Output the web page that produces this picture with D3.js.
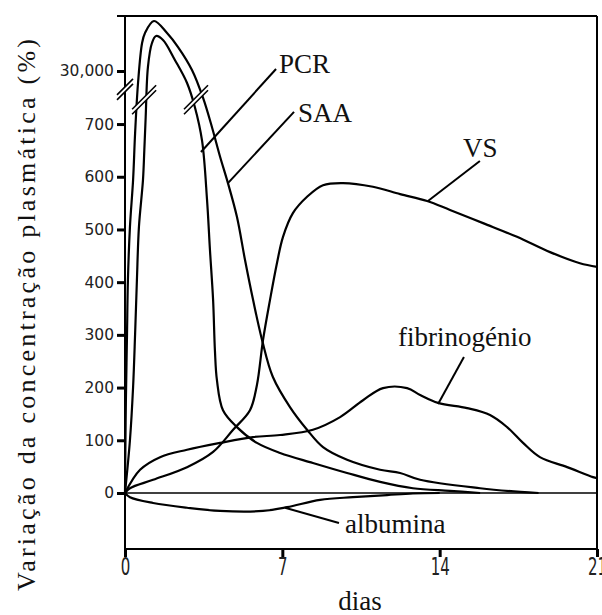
<!DOCTYPE html>
<html><head><meta charset="utf-8">
<script src="https://cdn.jsdelivr.net/npm/d3@7"></script>
<style>body{margin:0;background:#fff}svg{display:block}
.serif{font-family:"Liberation Serif","DejaVu Serif","Times New Roman",Times,serif;}
</style>
</head><body>
<svg id="chart" width="602" height="615"></svg>
<script>
// ---- data ----
const xTickValues = [0, 7, 14, 21];
const yTickValues = [0, 100, 200, 300, 400, 500, 600, 700, 30000];

const saaDays   = [0, 0.02, 0.04, 0.09, 0.13, 0.22, 0.36, 0.45, 0.58, 0.76, 0.89, 1.29, 1.87, 2.36, 2.98, 3.47, 3.87, 4.23, 4.58, 4.98, 5.34, 5.70, 6.10, 6.58, 7.34, 8.10, 8.81, 9.88, 11.35, 12.24, 13.13, 15.8, 17.6, 18.4];
const saaValues = [0, 100, 176, 302, 404, 505, 594, 683, 27650, 35490, 37450, 39800, 37450, 34700, 30200, 760, 694, 638, 588, 524, 442, 366, 290, 220, 163, 120, 87, 63, 44, 38, 25, 9, 2, 0];

const pcrDays   = [0, 0.22, 0.36, 0.45, 0.53, 0.62, 0.80, 0.86, 0.92, 1.02, 1.20, 1.38, 1.69, 2.22, 2.76, 3.11, 3.43, 3.65, 3.78, 3.92, 4.00, 4.09, 4.36, 4.98, 5.87, 6.90, 8.36, 9.88, 11.35, 12.81, 14.46, 15.8];
const pcrValues = [0, 100, 201, 302, 404, 505, 594, 651, 713, 30780, 35490, 36860, 36080, 32160, 27650, 732, 668, 556, 461, 366, 271, 214, 157, 125, 95, 76, 57, 38, 21, 9, 4, 0];

const vsDays   = [0, 0.22, 1.25, 2.76, 3.92, 4.81, 5.56, 5.87, 6.14, 6.45, 6.76, 7.03, 7.47, 8.10, 8.81, 9.70, 11.03, 12.24, 13.44, 14.46, 15.93, 17.44, 18.91, 20.24, 21];
const vsValues = [0, 9, 25, 49, 78, 120, 157, 205, 290, 366, 436, 486, 531, 562, 584, 588, 581, 567, 554, 537, 512, 486, 457, 436, 429];

const fibDays   = [0, 0.67, 1.56, 2.76, 4.23, 5.69, 6.90, 8.36, 9.57, 10.59, 11.48, 12.55, 13.13, 13.93, 15.22, 16.24, 17.00, 17.71, 18.46, 19.67, 20.82, 21];
const fibValues = [0, 44, 68, 82, 95, 106, 110, 120, 144, 176, 199, 199, 186, 171, 161, 148, 125, 95, 68, 49, 30, 28];

const albDays   = [0, 0.22, 1.25, 2.76, 4.23, 6.14, 7.21, 8.68, 10.14, 11.66, 12.81, 14.0];
const albValues = [0, -8, -19, -28, -34, -34, -27, -13, -8, -4, -1, 0];

// label: text, text anchor point, leader start, leader end (day, value)
const labelNames  = ["PCR", "SAA", "VS", "fibrinogénio", "albumina"];
const labelAt     = [[6.85, 29608], [7.70, 704], [15.04, 638], [12.15, 279], [9.79, -76]];
const leaderFrom  = [[6.72, 30392], [7.52, 723], [15.79, 630], [15.08, 258], [9.52, -57]];
const leaderTo    = [[3.38, 647], [4.58, 588], [13.48, 554], [13.93, 169], [7.12, -28]];

// axis break marks (day, value, half-size)
const breakDays   = [0, 0.85, 3.16];
const breakValues = [20000, 746, 746];
const breakHalf   = [8, 12, 12];

// ---- layout ----
const frame = {left: 125, right: 597, top: 16, bottom: 549};
const svg = d3.select("#chart");

const x = d3.scaleLinear().domain([0, 21]).range([frame.left, frame.right]);
// broken y scale: linear 0..750, compressed break, upper segment for the big peaks
const y = d3.scaleLinear().domain([-106.3, 750, 27000, 40000]).range([549, 97.7, 86.3, 20]);

// frame
const g = svg.append("g").attr("stroke", "#000").attr("fill", "none");
g.append("line").attr("x1", frame.left - 8).attr("x2", frame.right).attr("y1", frame.top).attr("y2", frame.top).attr("stroke-width", 2);
g.append("line").attr("x1", frame.right).attr("x2", frame.right).attr("y1", frame.top).attr("y2", frame.bottom).attr("stroke-width", 2);
g.append("line").attr("x1", frame.left).attr("x2", frame.right).attr("y1", frame.bottom).attr("y2", frame.bottom).attr("stroke-width", 2);
g.append("line").attr("x1", frame.left).attr("x2", frame.left).attr("y1", frame.top).attr("y2", frame.bottom).attr("stroke-width", 2);
// zero line
g.append("line").attr("x1", frame.left).attr("x2", frame.right).attr("y1", y(0)).attr("y2", y(0)).attr("stroke-width", 1.5);

// y axis
const yAxis = svg.append("g").attr("transform", `translate(${frame.left},0)`)
  .call(d3.axisLeft(y).tickValues(yTickValues).tickSize(8).tickPadding(3).tickFormat(d3.format(",")));
yAxis.select(".domain").remove();
yAxis.selectAll(".tick line").attr("stroke", "#000").attr("stroke-width", 3);
yAxis.selectAll(".tick text").attr("font-family", "DejaVu Sans").attr("font-size", 15.5).attr("fill", "#222");

// x axis
const xAxis = svg.append("g").attr("transform", `translate(0,${frame.bottom})`)
  .call(d3.axisBottom(x).tickValues(xTickValues).tickSize(8).tickFormat(d3.format("d")));
xAxis.select(".domain").remove();
xAxis.selectAll(".tick line").attr("stroke", "#000").attr("stroke-width", 3);
xAxis.selectAll(".tick text").attr("font-family", "DejaVu Sans").attr("font-size", 15).attr("fill", "#222")
  .attr("dy", 0).attr("y", 16).attr("transform", "scale(1,1.6)");

// curves
const line = d3.line().x(d => x(d[0])).y(d => y(d[1])).curve(d3.curveCatmullRom.alpha(0.5));
const series = [
  [saaDays, saaValues], [pcrDays, pcrValues], [vsDays, vsValues], [fibDays, fibValues], [albDays, albValues]
];
series.forEach(([ds, vs]) => {
  svg.append("path").datum(ds.map((d, i) => [d, vs[i]]))
    .attr("d", line).attr("fill", "none").attr("stroke", "#000").attr("stroke-width", 2.2)
    .attr("stroke-linejoin", "round");
});

// break marks
breakDays.forEach((d, i) => {
  const cx = x(d), cy = y(breakValues[i]), h = breakHalf[i], o = 2.5;
  const bg = svg.append("g");
  bg.append("polygon")
    .attr("points", [[cx - h, cy + h - o], [cx + h, cy - h - o], [cx + h, cy - h + o], [cx - h, cy + h + o]].map(p => p.join(",")).join(" "))
    .attr("fill", "#fff");
  [-o, o].forEach(off => {
    bg.append("line").attr("x1", cx - h).attr("y1", cy + h + off).attr("x2", cx + h).attr("y2", cy - h + off)
      .attr("stroke", "#000").attr("stroke-width", 1.6);
  });
});

// leader lines and labels
labelNames.forEach((name, i) => {
  svg.append("line")
    .attr("x1", x(leaderFrom[i][0])).attr("y1", y(leaderFrom[i][1]))
    .attr("x2", x(leaderTo[i][0])).attr("y2", y(leaderTo[i][1]))
    .attr("stroke", "#000").attr("stroke-width", 2);
  svg.append("text").attr("class", "serif").attr("x", x(labelAt[i][0])).attr("y", y(labelAt[i][1]))
    .attr("font-size", 27).attr("fill", "#111").text(name);
});

// axis titles
svg.append("text").attr("class", "serif").attr("transform", "translate(35,315) rotate(-90)")
  .attr("text-anchor", "middle").attr("font-size", 26).attr("fill", "#111")
  .attr("textLength", 552).attr("lengthAdjust", "spacing")
  .text("Variação da concentração plasmática (%)");
svg.append("text").attr("class", "serif").attr("x", 360).attr("y", 610).attr("text-anchor", "middle")
  .attr("font-size", 27).attr("fill", "#111").text("dias");
</script>
</body></html>
